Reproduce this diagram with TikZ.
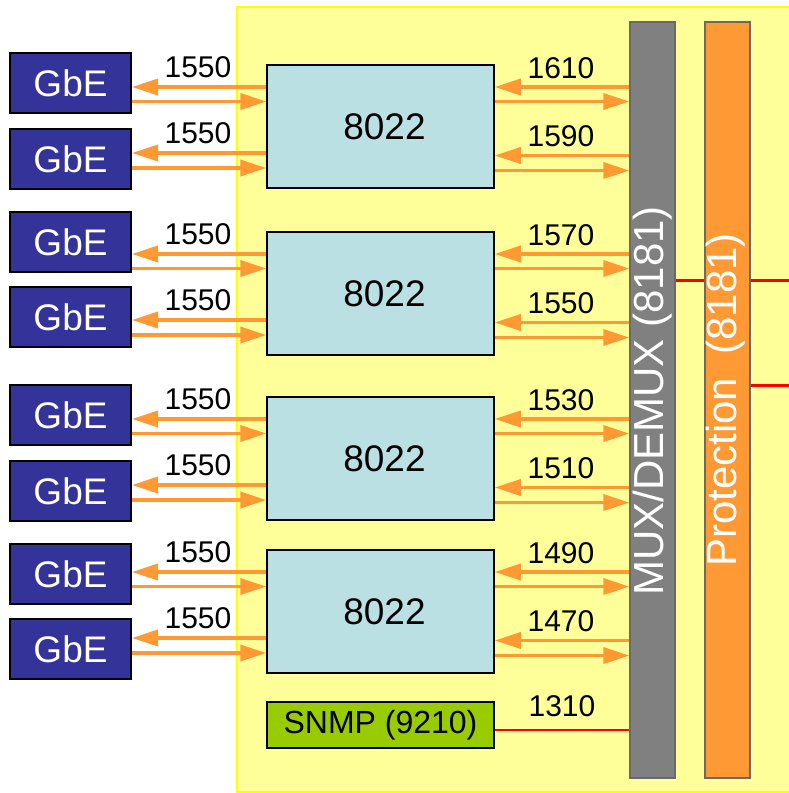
\documentclass[tikz,border=0pt]{standalone}
\usepackage{fontspec}
\setmainfont{Liberation Sans}
\usetikzlibrary{arrows.meta,calc}
\definecolor{bgyel}{HTML}{FFFF99}
\definecolor{yelbord}{HTML}{FFFF00}
\definecolor{gbeblue}{HTML}{333399}
\definecolor{boxcyan}{HTML}{BBE0E3}
\definecolor{snmpgreen}{HTML}{99CC00}
\definecolor{arrorange}{HTML}{FF9933}
\definecolor{muxgray}{HTML}{808080}
\definecolor{bargray}{HTML}{6A6A6A}
\definecolor{redline}{HTML}{FF0000}
\begin{document}
\begin{tikzpicture}[x=1pt,y=-1pt,
  gbe/.style={draw=black, line width=2pt, fill=gbeblue, text=white, minimum width=121pt, minimum height=60pt, inner sep=0pt, font=\fontsize{37}{40}\selectfont},
  unit/.style={draw=black, line width=1.5pt, fill=boxcyan, minimum width=227pt, minimum height=123pt, inner sep=0pt, font=\fontsize{37}{40}\selectfont},
  snmpbox/.style={draw=black, line width=1.5pt, fill=snmpgreen, minimum width=227pt, minimum height=46pt, inner sep=0pt, font=\fontsize{32}{36}\selectfont},
  bar/.style={draw=bargray, line width=1.2pt, minimum width=45pt, minimum height=756pt, inner sep=0pt},
  bartext/.style={rotate=90, text=white, inner sep=0pt, font=\fontsize{42}{46}\selectfont},
  lbl/.style={inner sep=0pt, font=\fontsize{30}{34}\selectfont},
  arr/.style={draw=arrorange, line width=3.5pt, -{Triangle[length=26pt,width=16pt]}},
  redthick/.style={draw=redline, line width=3pt},
  redthin/.style={draw=redline, line width=1.8pt}
]
\useasboundingbox (0,0) rectangle (789,793);
\clip (0,0) rectangle (789,793);
% background panel
\path[fill=bgyel, draw=yelbord, line width=2pt] (237,7) rectangle (800,792);
% bars
\node[bar, fill=muxgray] (mux) at (652.5,400) {};
\node[bar, fill=arrorange] (prot) at (727.5,400) {};
\node[bartext] (muxt) at (652.5,401) {MUX/DEMUX (8181)};
\node[bartext] (prott) at (726,400) {Protection\ \ (8181)};
% GbE nodes
\foreach \i/\y in {1/83,2/159,3/242,4/317,5/415,6/491,7/574,8/649}{
  \node[gbe] (g\i) at (70.5,\y) {GbE};
}
% 8022 units and arrows
\foreach \k/\t/\ra/\rb in {1/65/1610/1590, 2/232/1570/1550, 3/397/1530/1510, 4/550/1490/1470}{
  \pgfmathtruncatemacro\ga{2*\k-1}
  \pgfmathtruncatemacro\gb{2*\k}
  \node[unit] (b\k) at (380.5,{\t+61.5}) {\hspace*{8pt}8022};
  % left side coordinates
  \coordinate (la\k) at (0,{\t+22});
  \coordinate (lb\k) at (0,{\t+36.5});
  \coordinate (lc\k) at (0,{\t+88});
  \coordinate (ld\k) at (0,{\t+103});
  \draw[arr] (b\k.west |- la\k) -- (g\ga.east |- la\k);
  \draw[arr] (g\ga.east |- lb\k) -- (b\k.west |- lb\k);
  \draw[arr] (b\k.west |- lc\k) -- (g\gb.east |- lc\k);
  \draw[arr] (g\gb.east |- ld\k) -- (b\k.west |- ld\k);
  \node[lbl] (lla\k) at (198,{\t+2}) {1550};
  \node[lbl] (llb\k) at (198,{\t+68}) {1550};
  % right side coordinates
  \coordinate (ra\k) at (0,{\t+22});
  \coordinate (rb\k) at (0,{\t+36.5});
  \coordinate (rc\k) at (0,{\t+90.5});
  \coordinate (rd\k) at (0,{\t+105.5});
  \draw[arr] (mux.west |- ra\k) -- (b\k.east |- ra\k);
  \draw[arr] (b\k.east |- rb\k) -- (mux.west |- rb\k);
  \draw[arr] (mux.west |- rc\k) -- (b\k.east |- rc\k);
  \draw[arr] (b\k.east |- rd\k) -- (mux.west |- rd\k);
  \node[lbl] (rla\k) at (561,{\t+3}) {\ra};
  \node[lbl] (rlb\k) at (561,{\t+71.5}) {\rb};
}
% SNMP
\node[snmpbox] (snmp) at (380.5,725) {SNMP (9210)};
\coordinate (s0) at (0,730);
\draw[redthin] (snmp.east |- s0) -- (mux.west |- s0);
\node[lbl] (l1310) at (562,706) {1310};
% red links
\coordinate (e1) at (789,280);
\coordinate (e2) at (789,385);
\draw[redthick] (mux.east |- e1) -- (prot.west |- e1);
\draw[redthick] (prot.east |- e1) -- (e1);
\draw[redthick] (prot.east |- e2) -- (e2);
\end{tikzpicture}
\end{document}
